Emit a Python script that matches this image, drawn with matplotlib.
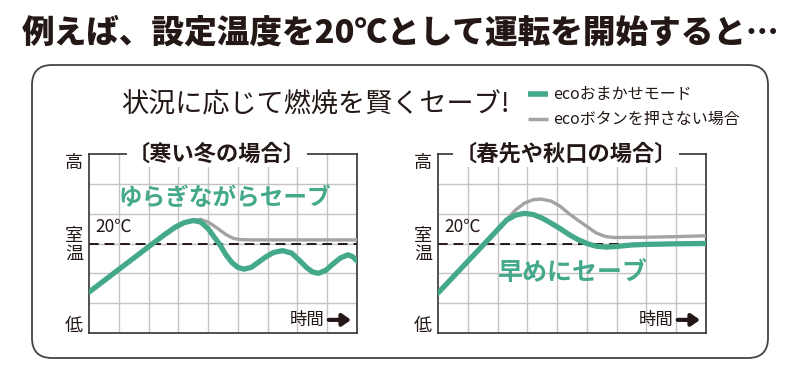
import numpy as np
import matplotlib
matplotlib.use("Agg")
import matplotlib.pyplot as plt
from matplotlib.patches import FancyBboxPatch

plt.rcParams['font.family'] = ['Noto Sans CJK JP', 'DejaVu Sans']

GREEN = '#43a98a'
GRAY = '#a3a3a3'
DARK = '#231815'

# --- data (x: time grid units 0-9, y: temperature grid units 0-6, 20℃ = 3) ---
setpoint = 3.0

# 寒い冬の場合
winter_eco_x = [0, 0.5, 1, 1.5, 2, 2.5, 2.9, 3.2, 3.5, 3.75, 4.0, 4.2, 4.4, 4.6, 4.8, 5.0, 5.2,
                5.45, 5.7, 5.95, 6.2, 6.5, 6.8, 7.05, 7.3, 7.5, 7.7, 7.95, 8.2, 8.45, 8.7, 8.85, 9.0]
winter_eco_y = [1.37, 1.75, 2.13, 2.51, 2.89, 3.27, 3.55, 3.70, 3.77, 3.72, 3.50, 3.22, 2.95, 2.62,
                2.36, 2.20, 2.14, 2.20, 2.38, 2.56, 2.70, 2.76, 2.68, 2.45, 2.20, 2.05, 2.00, 2.10,
                2.32, 2.52, 2.62, 2.56, 2.42]
winter_off_x = [3.2, 3.5, 3.75, 4.0, 4.3, 4.6, 4.85, 5.1, 5.5, 9.0]
winter_off_y = [3.70, 3.78, 3.81, 3.72, 3.52, 3.30, 3.17, 3.13, 3.12, 3.12]

# 春先や秋口の場合
spring_eco_x = [0, 0.5, 1, 1.5, 2, 2.3, 2.6, 2.9, 3.2, 3.5, 3.8, 4.1, 4.4, 4.7, 5.0, 5.3, 5.65,
                6.0, 6.5, 7.0, 7.5, 8.0, 9.0]
spring_eco_y = [1.34, 1.87, 2.40, 2.93, 3.46, 3.78, 3.95, 4.01, 3.97, 3.85, 3.68, 3.50, 3.30, 3.13,
                3.00, 2.91, 2.88, 2.90, 2.95, 2.97, 2.98, 2.99, 3.00]
spring_off_x = [2.0, 2.3, 2.6, 2.9, 3.2, 3.45, 3.8, 4.1, 4.4, 4.7, 5.0, 5.3, 5.6, 5.9, 7.0, 8.0, 9.0]
spring_off_y = [3.46, 3.80, 4.12, 4.35, 4.47, 4.49, 4.42, 4.25, 4.00, 3.78, 3.57, 3.36, 3.24, 3.20,
                3.21, 3.23, 3.26]

panels = [
    ("〔寒い冬の場合〕", winter_eco_x, winter_eco_y, winter_off_x, winter_off_y,
     "ゆらぎながらセーブ", (4.55, 4.53), 17),
    ("〔春先や秋口の場合〕", spring_eco_x, spring_eco_y, spring_off_x, spring_off_y,
     "早めにセーブ", (4.53, 2.01), 18),
]
legend_labels = ["ecoおまかせモード", "ecoボタンを押さない場合"]

fig = plt.figure(figsize=(7.9, 3.67), dpi=100)

# background canvas in pixel units
bg = fig.add_axes([0, 0, 1, 1])
bg.set_xlim(0, 790)
bg.set_ylim(367, 0)
bg.axis('off')
bg.add_patch(FancyBboxPatch((32, 65), 736, 293, boxstyle='round,pad=0,rounding_size=20',
                            facecolor='white', edgecolor='#444444', lw=1.3))
bg.text(401, 33, "例えば、設定温度を20℃として運転を開始すると…", fontsize=23.5,
        fontweight='heavy', color=DARK, ha='center', va='center')
bg.text(315, 105, "状況に応じて燃焼を賢くセーブ!", fontsize=19.5, color=DARK,
        ha='center', va='center')
bg.plot([528, 548], [94, 94], color=GREEN, lw=4, solid_capstyle='butt')
bg.plot([528, 548], [119, 119], color=GRAY, lw=2.5, solid_capstyle='butt')
bg.text(553, 94, legend_labels[0], fontsize=11.5, color=DARK, va='center')
bg.text(553, 119, legend_labels[1], fontsize=11.5, color=DARK, va='center')

lefts = [89 / 790, 438 / 790]
for left, (title, ex, ey, ox, oy, note, note_pos, note_fs) in zip(lefts, panels):
    ax = fig.add_axes([left, 34 / 367, 268 / 790, 179 / 367])
    ax.set_xlim(0, 9)
    ax.set_ylim(0, 6)
    for v in range(1, 9):
        ax.axvline(v, color='#c4c4c4', lw=1, zorder=1)
    for h in range(1, 6):
        ax.axhline(h, color='#c4c4c4', lw=1, zorder=1)
    ax.axhline(setpoint, color=DARK, lw=1.4, ls=(0, (5, 3)), zorder=2)
    ax.plot(ox, oy, color=GRAY, lw=2.4, zorder=3, solid_capstyle='round')
    ax.plot(ex, ey, color=GREEN, lw=3.8, zorder=4, solid_capstyle='round')
    ax.set_xticks([])
    ax.set_yticks([])
    for s in ax.spines.values():
        s.set_color('#333333')
        s.set_linewidth(1.2)

    ax.text(4.3, 6.0, title, fontsize=16, fontweight='bold', color=DARK, ha='center',
            va='center', zorder=6, clip_on=False,
            bbox=dict(facecolor='white', edgecolor='none', pad=1))
    ax.text(note_pos[0], note_pos[1], note, fontsize=note_fs, fontweight='bold', color=GREEN,
            ha='center', va='center', zorder=5)
    ax.text(0.2, 3.55, "20℃", fontsize=12.5, color=DARK, ha='left', va='center', zorder=5)

    ax.text(-0.5, 5.7, "高", fontsize=13, color=DARK, ha='center', va='center', clip_on=False)
    ax.text(-0.5, 3.24, "室", fontsize=13, color=DARK, ha='center', va='center', clip_on=False)
    ax.text(-0.5, 2.66, "温", fontsize=13, color=DARK, ha='center', va='center', clip_on=False)
    ax.text(-0.5, 0.25, "低", fontsize=13, color=DARK, ha='center', va='center', clip_on=False)

    ax.text(7.9, 0.44, "時間", fontsize=12.5, color=DARK, ha='right', va='center', zorder=5)
    ax.annotate('', xy=(8.8, 0.44), xytext=(8.05, 0.44), zorder=5,
                arrowprops=dict(arrowstyle='-|>,head_width=0.35,head_length=0.5', lw=3,
                                color=DARK, shrinkA=0, shrinkB=0))

fig.savefig("out.png", dpi=100)
